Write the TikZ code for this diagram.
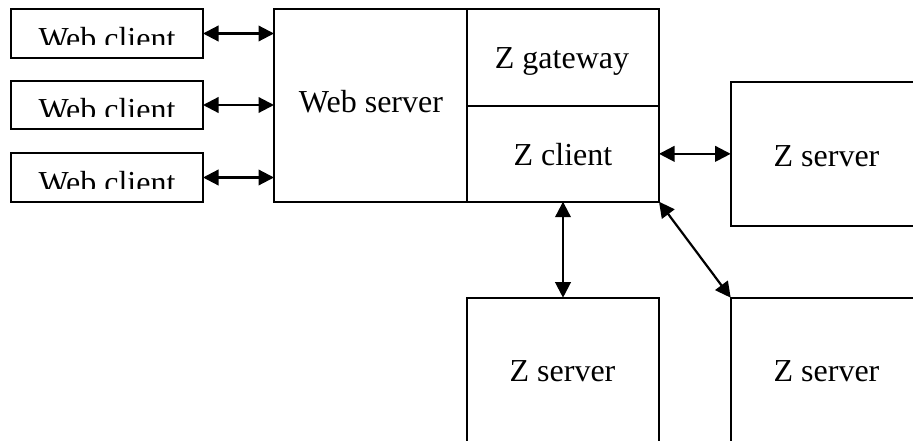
\documentclass[tikz,border=0pt]{standalone}
\usepackage{fontspec}
\setmainfont{Liberation Serif}
\usetikzlibrary{arrows.meta}

\tikzset{
  box/.style={draw, line width=2.2pt, fill=white, inner sep=0pt, outer sep=0pt},
  lbl/.style={anchor=base, inner sep=0pt, font=\fontsize{32}{36}\selectfont},
  link/.style={line width=2.2pt, {Triangle[length=15.5pt 0 0,width=15.5pt 0 0]}-{Triangle[length=15.5pt 0 0,width=15.5pt 0 0]}}
}

\begin{document}
\begin{tikzpicture}[x=1pt, y=-1pt]
  \useasboundingbox (0,0) rectangle (913,441);
  \clip (0,0) rectangle (913,441);

  % web clients (their captions are cut off by the text frame)
  \foreach \i/\cy in {1/33.5, 2/105, 3/177.5} {
    \node[box, minimum width=192pt, minimum height=48.5pt] (wc\i) at (107,\cy) {};
    \begin{scope}
      \clip ([xshift=1pt,yshift=-1pt]wc\i.north west) rectangle ([xshift=-1pt,yshift=-35.7pt]wc\i.north east);
      \node[lbl] (wct\i) at ([yshift=-39.8pt]wc\i.north) {Web client};
    \end{scope}
  }

  % web server with the Z gateway / Z client module
  \node[box, minimum width=193pt, minimum height=192.4pt] (ws) at (370.5,105.5) {};
  \node[lbl] (wst) at (371,112.3) {Web server};
  \node[box, minimum width=192pt, minimum height=96.7pt] (zg) at (563,57.65) {};
  \node[lbl] (zgt) at (562,69) {Z gateway};
  \node[box, minimum width=192pt, minimum height=95.7pt] (zc) at (563,153.85) {};
  \node[lbl] (zct) at (563,165.5) {Z client};

  % Z servers
  \node[box, minimum width=191.6pt, minimum height=144pt] (zs1) at (826.5,153.85) {};
  \node[lbl] (zs1t) at (826.5,166) {Z server};
  \node[box, minimum width=192.3pt, minimum height=144pt] (zs2) at (563,369.7) {};
  \node[lbl] (zs2t) at (562.5,381) {Z server};
  \node[box, minimum width=191.6pt, minimum height=144pt] (zs3) at (826.5,369.7) {};
  \node[lbl] (zs3t) at (826.5,381) {Z server};

  % connections
  \foreach \i in {1,2,3}
    \draw[link] (wc\i.east) -- (wc\i.east -| ws.west);
  \draw[link] (zc.east) -- (zs1.west);
  \draw[link] (zc.south) -- (zs2.north);
  \draw[link] (zc.south east) -- (zs3.north west);
\end{tikzpicture}
\end{document}
